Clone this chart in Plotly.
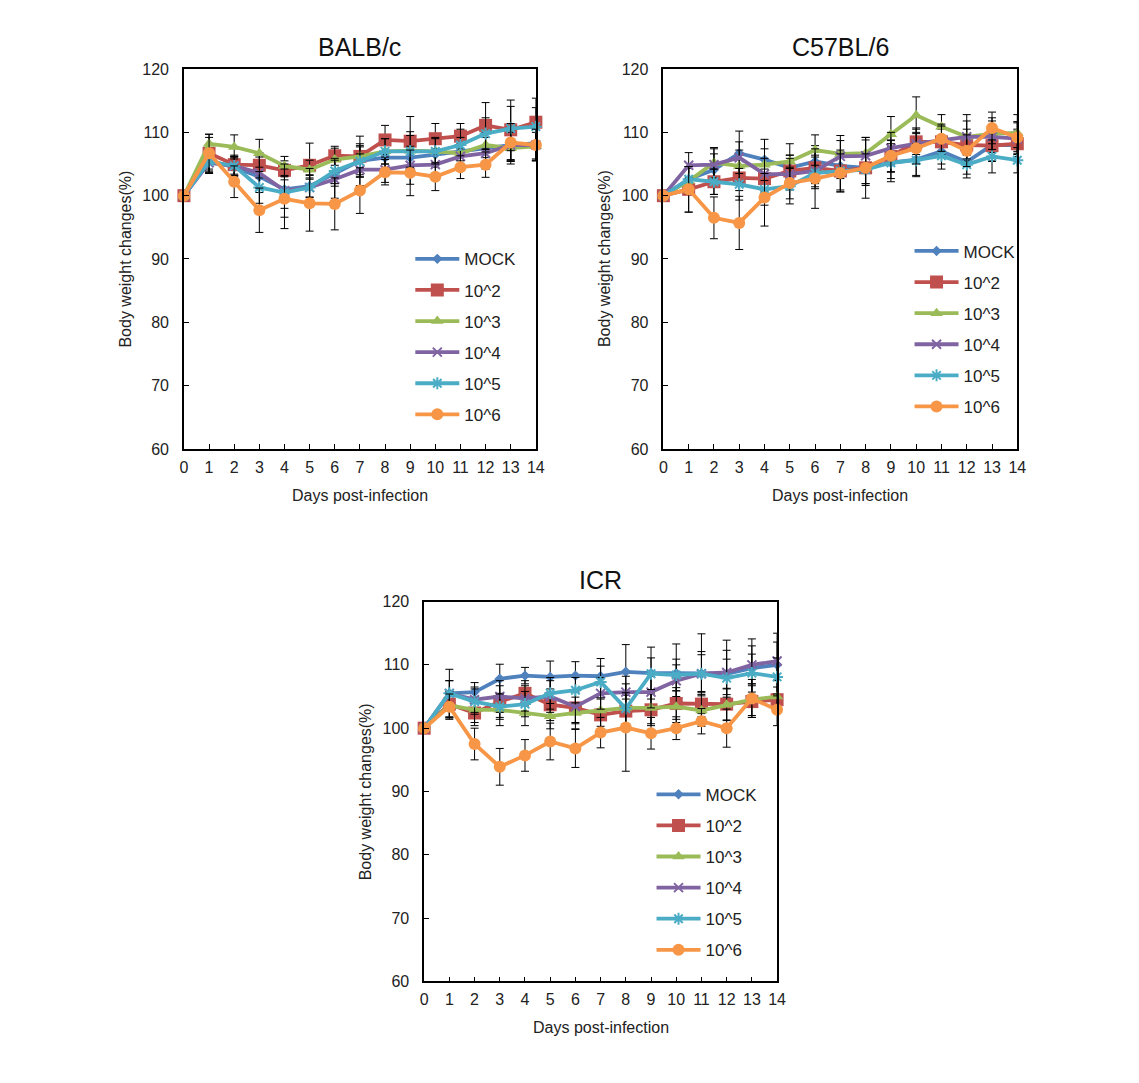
import plotly.graph_objects as go

days = list(range(15))
series_names = ["MOCK", "10^2", "10^3", "10^4", "10^5", "10^6"]
colors = ["#4F81BD", "#C0504D", "#9BBB59", "#8064A2", "#4BACC6", "#F79646"]
symbols = ["diamond", "square", "triangle-up", "x-thin-open", "asterisk-open", "circle"]
sizes = [8, 13, 11, 9, 10, 12]

# ---- BALB/c ----
balb_mock = [100, 105.5, 104.5, 103.0, 101.0, 101.5, 103.5, 105.5, 106.0, 106.0, 106.5, 107.0, 107.5, 108.0, 108.3]
balb_1e2 = [100, 106.7, 104.9, 104.8, 104.0, 104.8, 106.3, 106.2, 108.8, 108.6, 109.0, 109.4, 111.1, 110.4, 111.6]
balb_1e3 = [100, 108.2, 107.7, 106.7, 104.7, 104.1, 105.7, 106.2, 107.0, 107.1, 107.0, 106.7, 108.0, 107.5, 107.8]
balb_1e4 = [100, 105.2, 104.7, 103.6, 100.8, 101.3, 102.6, 104.1, 104.1, 104.8, 104.9, 106.2, 106.7, 108.0, 108.0]
balb_1e5 = [100, 105.4, 104.7, 101.3, 100.5, 101.3, 103.9, 105.4, 107.0, 107.0, 107.0, 108.0, 109.8, 110.6, 110.9]
balb_1e6 = [100, 106.7, 102.2, 97.7, 99.5, 98.8, 98.7, 100.8, 103.7, 103.6, 103.0, 104.5, 104.9, 108.4, 108.0]
balb_mock_err = [0, 2.0, 1.5, 2.5, 2.0, 1.8, 2.0, 2.2, 2.0, 2.5, 2.0, 2.2, 2.5, 2.5, 2.5]
balb_1e2_err = [0, 2.5, 1.5, 2.0, 1.5, 3.5, 1.5, 2.0, 2.3, 3.9, 2.4, 2.0, 3.6, 4.7, 3.8]
balb_1e3_err = [0, 1.5, 1.9, 2.2, 1.5, 1.5, 1.8, 3.2, 2.0, 3.0, 2.2, 2.5, 2.0, 2.5, 2.2]
balb_1e4_err = [0, 1.5, 1.5, 2.5, 4.2, 3.0, 3.0, 2.5, 2.0, 3.0, 2.5, 2.0, 2.5, 2.5, 2.5]
balb_1e5_err = [0, 1.5, 1.5, 2.5, 2.5, 1.5, 2.0, 2.5, 2.0, 2.5, 2.0, 2.5, 2.5, 3.5, 3.0]
balb_1e6_err = [0, 3.0, 2.5, 3.5, 4.7, 4.4, 4.1, 3.6, 2.0, 3.6, 2.2, 1.8, 2.0, 3.0, 2.5]

# ---- C57BL/6 ----
c57_mock = [100, 102.6, 104.1, 106.7, 105.7, 104.4, 105.4, 104.7, 104.4, 105.2, 105.7, 107.0, 105.3, 108.0, 108.0]
c57_1e2 = [100, 101.0, 102.2, 102.8, 102.7, 103.9, 104.4, 103.9, 104.4, 106.2, 108.5, 108.5, 108.0, 107.9, 108.2]
c57_1e3 = [100, 102.3, 105.2, 104.7, 104.9, 105.4, 107.2, 106.6, 106.7, 109.7, 112.7, 110.9, 109.3, 109.8, 109.9]
c57_1e4 = [100, 104.8, 104.9, 106.0, 103.4, 103.4, 103.9, 106.2, 106.3, 107.5, 108.2, 108.8, 109.3, 109.3, 109.0]
c57_1e5 = [100, 102.6, 102.2, 101.8, 101.0, 101.5, 103.6, 103.9, 104.1, 105.2, 105.6, 106.3, 104.9, 106.2, 105.6]
c57_1e6 = [100, 101.0, 96.5, 95.7, 99.7, 102.0, 102.7, 103.6, 104.4, 106.3, 107.5, 109.0, 107.1, 110.7, 109.2]
c57_mock_err = [0, 2.0, 2.5, 3.5, 3.2, 2.0, 2.5, 2.0, 2.5, 2.5, 2.5, 2.0, 2.5, 2.5, 2.5]
c57_1e2_err = [0, 3.6, 2.0, 2.0, 2.0, 2.5, 2.5, 3.0, 2.5, 2.5, 2.0, 2.0, 2.5, 2.5, 2.0]
c57_1e3_err = [0, 2.0, 2.4, 2.5, 2.5, 2.8, 2.4, 2.9, 2.5, 2.8, 2.9, 1.9, 2.5, 2.5, 2.9]
c57_1e4_err = [0, 2.0, 2.5, 2.5, 2.5, 2.5, 2.5, 2.5, 2.5, 2.5, 2.5, 2.5, 3.5, 2.5, 2.5]
c57_1e5_err = [0, 2.0, 2.0, 2.5, 2.5, 2.8, 2.5, 3.3, 2.5, 3.0, 2.6, 2.1, 1.5, 2.6, 2.0]
c57_1e6_err = [0, 3.6, 3.3, 4.2, 4.5, 2.5, 4.7, 3.0, 4.8, 2.5, 2.5, 2.0, 2.5, 2.5, 2.5]

# ---- ICR ----
icr_mock = [100, 105.5, 105.7, 107.8, 108.3, 108.1, 108.3, 108.2, 108.9, 108.7, 108.7, 108.6, 108.6, 109.5, 110.0]
icr_1e2 = [100, 103.8, 102.4, 104.2, 105.5, 103.7, 103.2, 102.1, 102.7, 102.9, 103.9, 103.8, 103.8, 104.2, 104.5]
icr_1e3 = [100, 103.6, 102.9, 102.9, 102.4, 101.9, 102.4, 102.8, 103.2, 103.2, 103.4, 102.8, 103.7, 104.5, 105.0]
icr_1e4 = [100, 105.5, 104.5, 105.0, 104.7, 105.0, 103.4, 105.5, 105.7, 105.7, 107.5, 108.6, 108.8, 110.0, 110.6]
icr_1e5 = [100, 105.5, 104.2, 103.4, 103.8, 105.5, 106.0, 107.3, 103.1, 108.6, 108.4, 108.6, 107.9, 108.7, 108.1]
icr_1e6 = [100, 103.4, 97.5, 93.9, 95.7, 97.9, 96.8, 99.3, 100.1, 99.2, 100.0, 101.1, 100.0, 104.7, 102.9]
icr_mock_err = [0, 3.8, 1.5, 2.3, 1.3, 2.5, 2.2, 2.8, 4.3, 4.1, 4.6, 6.3, 5.3, 4.6, 5.0]
icr_1e2_err = [0, 2.0, 2.0, 2.5, 2.0, 2.5, 2.5, 2.5, 2.5, 2.5, 2.5, 2.0, 2.5, 2.5, 2.0]
icr_1e3_err = [0, 2.0, 2.0, 2.5, 2.0, 2.0, 2.5, 2.5, 2.5, 2.5, 2.5, 2.5, 2.5, 2.5, 2.5]
icr_1e4_err = [0, 2.0, 2.0, 2.5, 2.0, 2.5, 2.5, 2.5, 2.5, 2.5, 2.5, 3.5, 3.5, 3.0, 3.0]
icr_1e5_err = [0, 2.0, 2.0, 2.0, 2.0, 2.5, 2.0, 2.5, 2.5, 2.5, 2.5, 3.0, 3.0, 3.0, 3.0]
icr_1e6_err = [0, 2.0, 2.5, 2.9, 2.5, 2.9, 3.0, 2.4, 6.9, 2.5, 1.8, 2.0, 3.0, 3.0, 2.5]

panels = [
    ("BALB/c", [balb_mock, balb_1e2, balb_1e3, balb_1e4, balb_1e5, balb_1e6],
     [balb_mock_err, balb_1e2_err, balb_1e3_err, balb_1e4_err, balb_1e5_err, balb_1e6_err]),
    ("C57BL/6", [c57_mock, c57_1e2, c57_1e3, c57_1e4, c57_1e5, c57_1e6],
     [c57_mock_err, c57_1e2_err, c57_1e3_err, c57_1e4_err, c57_1e5_err, c57_1e6_err]),
    ("ICR", [icr_mock, icr_1e2, icr_1e3, icr_1e4, icr_1e5, icr_1e6],
     [icr_mock_err, icr_1e2_err, icr_1e3_err, icr_1e4_err, icr_1e5_err, icr_1e6_err]),
]

W, H = 1139, 1083
# plot-area boxes in pixels: left, right, top, bottom
boxes = [(182, 538, 62, 448), (667, 1025, 62, 448), (425, 782, 603, 989)]
legend_pos = [(411, 237), (916, 229), (655, 781)]

FONT = "Liberation Sans, Arial, sans-serif"
fig = go.Figure()
layout = dict(width=W, height=H, margin=dict(l=0, r=0, t=0, b=0),
              paper_bgcolor="white", plot_bgcolor="white",
              font=dict(family=FONT, color="#222"), showlegend=True)
annotations = []

def px(x):
    return x / W

def py(y):
    return 1 - y / H

for i, (title, vals, errs) in enumerate(panels):
    sfx = "" if i == 0 else str(i + 1)
    xa, ya = "x" + sfx, "y" + sfx
    leg = "legend" + sfx
    for j, name in enumerate(series_names):
        fig.add_trace(go.Scatter(
            x=days, y=vals[j], name=name, mode="lines+markers",
            xaxis=xa, yaxis=ya, legend=leg, legendgroup=f"g{i}{j}",
            line=dict(color=colors[j], width=3.8),
            marker=dict(symbol=symbols[j], size=sizes[j], color=colors[j],
                        line=dict(color=colors[j], width=2 if "open" in symbols[j] else 0)),
            error_y=dict(type="data", array=errs[j], visible=True,
                         color="black", thickness=1, width=4),
            cliponaxis=False,
        ))
    l, r, t, b = boxes[i]
    axis_common = dict(showline=True, linecolor="black", linewidth=1.5, mirror=True,
                       ticks="inside", ticklen=5, tickcolor="black", tickwidth=1,
                       showgrid=False, zeroline=False,
                       tickfont=dict(family=FONT, size=16, color="#222"))
    layout["xaxis" + sfx] = dict(axis_common, domain=[px(l), px(r)], range=[0, 14],
                                 tickmode="linear", tick0=0, dtick=1, anchor=ya,
                                 ticklabelstandoff=3)
    layout["yaxis" + sfx] = dict(axis_common, domain=[py(b), py(t)], range=[60, 120],
                                 tickmode="linear", tick0=60, dtick=10, anchor=xa,
                                 ticklabelstandoff=10)
    lx, ly = legend_pos[i]
    layout[leg] = dict(x=px(lx), y=py(ly), xanchor="left", yanchor="top",
                       bgcolor="rgba(0,0,0,0)", traceorder="grouped",
                       tracegroupgap=6, itemwidth=44,
                       font=dict(family=FONT, size=17, color="#222"))
    cx = (l + r) / 2
    annotations.append(dict(text=title, x=px(cx), y=py(t - 22), xref="paper", yref="paper",
                            showarrow=False, xanchor="center", yanchor="middle",
                            font=dict(family=FONT, size=25, color="#111")))
    annotations.append(dict(text="Days post-infection", x=px(cx), y=py(b + 47),
                            xref="paper", yref="paper", showarrow=False,
                            xanchor="center", yanchor="middle",
                            font=dict(family=FONT, size=16, color="#222")))
    annotations.append(dict(text="Body weight changes(%)", x=px(l - 59), y=py((t + b) / 2),
                            xref="paper", yref="paper", showarrow=False, textangle=-90,
                            xanchor="center", yanchor="middle",
                            font=dict(family=FONT, size=16, color="#222")))

layout["annotations"] = annotations
fig.update_layout(**layout)
fig.write_html("out.html")
